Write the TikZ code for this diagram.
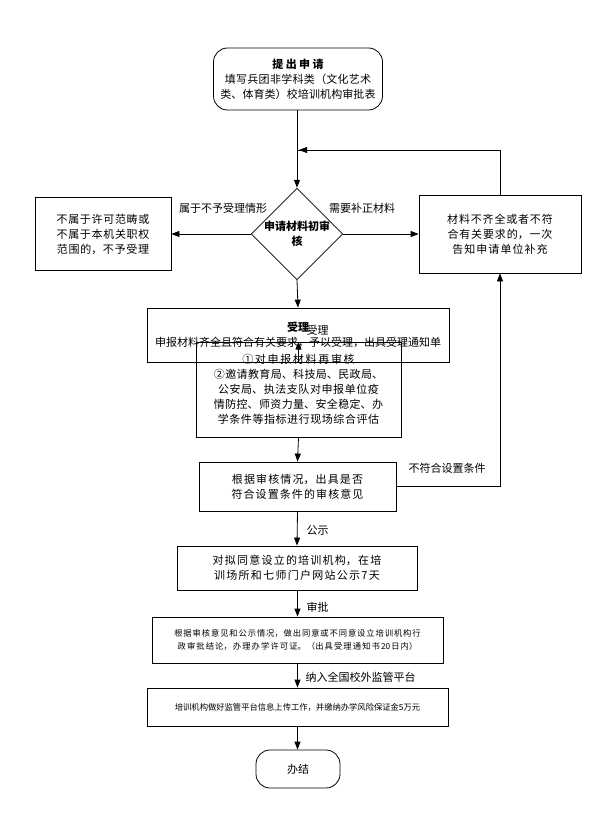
\documentclass[tikz,border=0pt]{standalone}
\usepackage{fontspec}
\setmainfont{Noto Sans CJK SC}
\XeTeXlinebreaklocale "zh"
\XeTeXlinebreakskip=0pt plus 1pt
\usetikzlibrary{shapes.geometric,arrows.meta}
\begin{document}
\begin{tikzpicture}[x=1pt,y=-1pt,
        box/.style={draw, thick, align=center, inner sep=1pt, font=\fontsize{11}{15}\selectfont},
        smallbox/.style={box, font=\fontsize{8.3}{13}\selectfont},
        term/.style={box, rounded corners=14pt},
        flow/.style={thick, -{Triangle[length=8pt,width=6pt]}},
        lbl/.style={font=\fontsize{11}{13}\selectfont},
    ]
    \useasboundingbox (0,0) rectangle (603,818);

    \node[term, minimum width=169pt, minimum height=62pt, text width=160pt] (apply) at (298,79)
        {\textbf{提出申请}\\填写兵团非学科类（文化艺术类、体育类）校培训机构审批表};
    \node[draw, thick, diamond, minimum width=86pt, minimum height=88pt, inner sep=0pt, align=center,
        font=\fontsize{11}{15}\selectfont\bfseries] (check) at (297,234) {申请材料初审\\核};
    \node[box, minimum width=136pt, minimum height=73pt, text width=122pt] (reject) at (103,234)
        {不属于许可范畴或不属于本机关职权范围的，不予受理};
    \node[box, minimum width=162pt, minimum height=78pt, text width=142pt] (supply) at (500,234)
        {材料不齐全或者不符合有关要求的，一次告知申请单位补充};
    \node[box, minimum width=302pt, minimum height=54pt] (accept) at (298,335)
        {\textbf{受理}\\申报材料齐全且符合有关要求，予以受理，出具受理通知单};
    \node[box, minimum width=205pt, minimum height=95pt, text width=186pt] (review) at (298.5,389.5)
        {①对申报材料再审核\\②邀请教育局、科技局、民政局、公安局、执法支队对申报单位疫情防控、师资力量、安全稳定、办学条件等指标进行现场综合评估};
    \node[box, minimum width=197pt, minimum height=49pt, text width=180pt] (opinion) at (297.5,486.5)
        {根据审核情况，出具是否符合设置条件的审核意见};
    \node[box, minimum width=240pt, minimum height=44pt, text width=222pt] (publish) at (297,568)
        {对拟同意设立的培训机构，在培训场所和七师门户网站公示7天};
    \node[smallbox, minimum width=291pt, minimum height=46pt, text width=276pt] (approve) at (297.5,640)
        {根据审核意见和公示情况，做出同意或不同意设立培训机构行政审批结论，办理办学许可证。（出具受理通知书20日内）};
    \node[smallbox, minimum width=301pt, minimum height=38pt] (upload) at (297.5,707)
        {培训机构做好监管平台信息上传工作，并缴纳办学风险保证金5万元};
    \node[term, minimum width=84pt, minimum height=38pt] (done) at (298,769) {办结};

    \coordinate (loop) at (298,150);
    \draw[flow] (apply.south -| check) -- (check.north);
    \draw[thick] (supply.north) |- (loop);
    \draw[flow] (supply.north |- loop) -- ([xshift=2pt]loop -| check);
    \draw[flow] (check.west) -- (reject.east);
    \draw[flow] (check.east) -- (supply.west);
    \draw[flow] (check.south) -- (accept.north);
    \draw[flow] (accept.south -| review) -- (review.north);
    \draw[flow] (review.south) -- (opinion.north);
    \draw[flow] (opinion.south) -- (publish.north);
    \draw[flow] (publish.south -| opinion) -- (approve.north -| opinion);
    \draw[flow] (approve.south -| opinion) -- (upload.north -| opinion);
    \draw[flow] (upload.south -| opinion) -- (done.north -| opinion);
    \draw[flow] (opinion.east) -| (supply.south);

    \node[lbl] at (223,208) {属于不予受理情形};
    \node[lbl] at (362,208) {需要补正材料};
    \node[lbl, anchor=west] at (303,330) {受理};
    \node[lbl] at (447,468) {不符合设置条件};
    \node[lbl, anchor=west] at (303,530) {公示};
    \node[lbl, anchor=west] at (303,607) {审批};
    \node[lbl, anchor=west] at (302,677) {纳入全国校外监管平台};
\end{tikzpicture}
\end{document}
